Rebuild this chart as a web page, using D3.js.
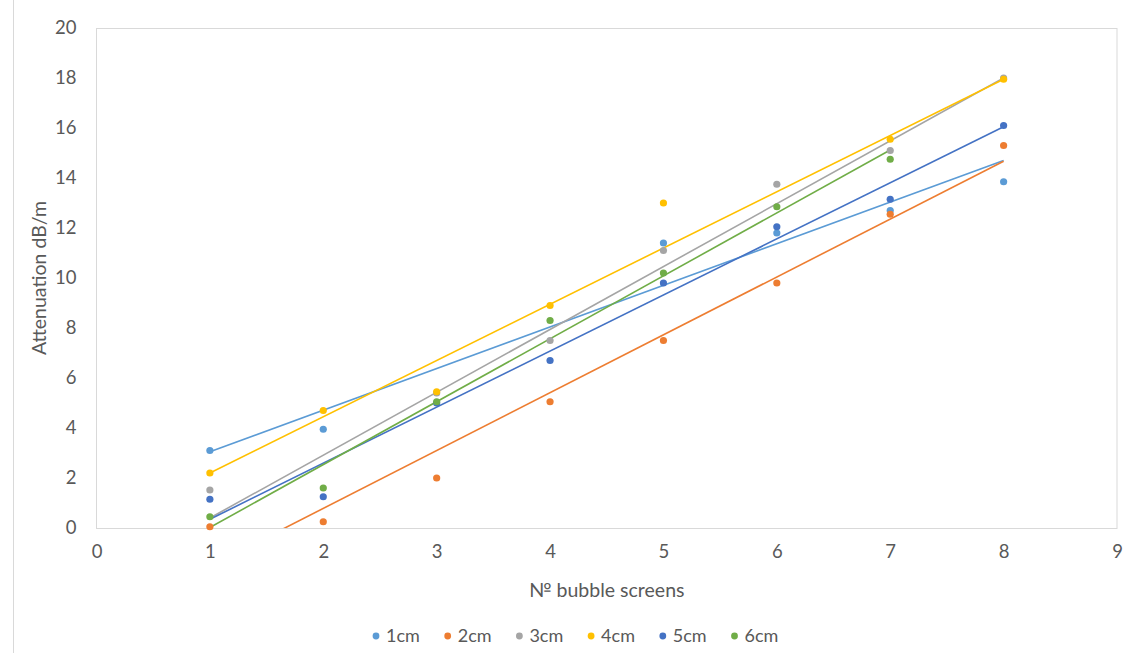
<!DOCTYPE html>
<html>
<head>
<meta charset="utf-8">
<script src="https://cdn.jsdelivr.net/npm/d3@7"></script>
<style>
  html, body { margin: 0; padding: 0; background: #ffffff; }
  svg { display: block; }
</style>
</head>
<body>
<svg id="chart" width="1125" height="653"></svg>
<script>
// ---- data ----
const seriesNames = ["1cm", "2cm", "3cm", "4cm", "5cm", "6cm"];
const seriesColors = ["#5B9BD5", "#ED7D31", "#A5A5A5", "#FFC000", "#4472C4", "#70AD47"];

// x = number of bubble screens, y = attenuation dB/m ; null = not visible
const xValues = [1, 2, 3, 4, 5, 6, 7, 8];
const values1cm = [3.1, 3.95, null, null, 11.4, 11.8, 12.7, 13.85];
const values2cm = [0.05, 0.25, 2.0, 5.05, 7.5, 9.8, 12.55, 15.3];
const values3cm = [1.52, null, 5.4, 7.5, 11.1, 13.75, 15.1, 18.0];
const values4cm = [2.2, 4.7, 5.45, 8.9, 13.0, null, 15.55, 17.95];
const values5cm = [1.15, 1.25, 5.0, 6.7, 9.8, 12.05, 13.15, 16.1];
const values6cm = [0.45, 1.6, 5.05, 8.3, 10.2, 12.85, 14.75, null];

// linear trendlines: value at first and last x of each series
const trendFromX = [1, 1, 1, 1, 1, 1];
const trendToX = [8, 8, 8, 8, 8, 7];
const trendFromY = [3.05, -1.53, 0.4, 2.2, 0.35, 0.02];
const trendToY = [14.7, 14.67, 18.0, 17.95, 16.05, 15.12];

const xTicks = [0, 1, 2, 3, 4, 5, 6, 7, 8, 9];
const yTicks = [0, 2, 4, 6, 8, 10, 12, 14, 16, 18, 20];
const xTitle = "№ bubble screens";
const yTitle = "Attenuation dB/m";

const allValues = [values1cm, values2cm, values3cm, values4cm, values5cm, values6cm];

// ---- drawing ----
(function () {
const svg = d3.select("#chart");
const font = "Lato, 'Open Sans', 'Liberation Sans', sans-serif";
const textColor = "#595959";
const gridColor = "#D9D9D9";
const tickFs = 18.5, titleFs = 19.5, legendFs = 18;

const pLeft = 96.5, pRight = 1117, pTop = 28, pBottom = 528;
const x = d3.scaleLinear().domain([0, 9]).range([pLeft, pRight]);
const y = d3.scaleLinear().domain([0, 20]).range([pBottom, pTop]);

// chart area border (left edge visible)
svg.append("rect")
  .attr("x", 13.5).attr("y", -5).attr("width", 1130).attr("height", 670)
  .attr("fill", "none").attr("stroke", gridColor).attr("stroke-width", 1);

// plot area border
svg.append("rect")
  .attr("x", pLeft).attr("y", pTop + 0.5)
  .attr("width", pRight - pLeft).attr("height", pBottom - pTop)
  .attr("fill", "none").attr("stroke", gridColor).attr("stroke-width", 1);

// axes (labels only)
const yAxis = d3.axisLeft(y).tickValues(yTicks).tickSize(0).tickPadding(20).tickFormat(d3.format("d"));
const gy = svg.append("g").attr("transform", `translate(${pLeft},0)`).call(yAxis);
gy.select(".domain").remove();
gy.selectAll("text").attr("font-family", font).attr("font-size", tickFs).attr("fill", textColor);

const xAxis = d3.axisBottom(x).tickValues(xTicks).tickSize(0).tickPadding(17).tickFormat(d3.format("d"));
const gx = svg.append("g").attr("transform", `translate(0,${pBottom})`).call(xAxis);
gx.select(".domain").remove();
gx.selectAll("text").attr("font-family", font).attr("font-size", tickFs).attr("fill", textColor);

// axis titles
svg.append("text")
  .attr("x", (pLeft + pRight) / 2).attr("y", 597)
  .attr("text-anchor", "middle")
  .attr("font-family", font).attr("font-size", titleFs).attr("fill", textColor)
  .text(xTitle);

svg.append("text")
  .attr("transform", `translate(46,${(pTop + pBottom) / 2}) rotate(-90)`)
  .attr("text-anchor", "middle")
  .attr("font-family", font).attr("font-size", titleFs).attr("fill", textColor)
  .text(yTitle);

// clip to plot area
svg.append("clipPath").attr("id", "plotClip")
  .append("rect").attr("x", pLeft).attr("y", pTop).attr("width", pRight - pLeft).attr("height", pBottom - pTop);

const plot = svg.append("g").attr("clip-path", "url(#plotClip)");

// trendlines
seriesNames.forEach((name, i) => {
  plot.append("line")
    .attr("x1", x(trendFromX[i])).attr("y1", y(trendFromY[i]))
    .attr("x2", x(trendToX[i])).attr("y2", y(trendToY[i]))
    .attr("stroke", seriesColors[i]).attr("stroke-width", 1.6);
});

// markers
const markerLayer = svg.append("g");
seriesNames.forEach((name, i) => {
  const pts = xValues.map((xv, j) => ({ x: xv, y: allValues[i][j] })).filter(d => d.y !== null);
  markerLayer.selectAll(null).data(pts).enter().append("circle")
    .attr("cx", d => x(d.x)).attr("cy", d => y(d.y))
    .attr("r", 3.6)
    .attr("fill", seriesColors[i]);
});

// legend
const legendStartX = 376, legendStep = 71.7, legendY = 636;
const legend = svg.append("g");
seriesNames.forEach((name, i) => {
  const lx = legendStartX + i * legendStep;
  legend.append("circle").attr("cx", lx).attr("cy", legendY).attr("r", 3.4).attr("fill", seriesColors[i]);
  legend.append("text")
    .attr("x", lx + 10).attr("y", legendY + 6)
    .attr("font-family", font).attr("font-size", legendFs).attr("fill", textColor)
    .text(name);
});
})();
</script>
</body>
</html>
